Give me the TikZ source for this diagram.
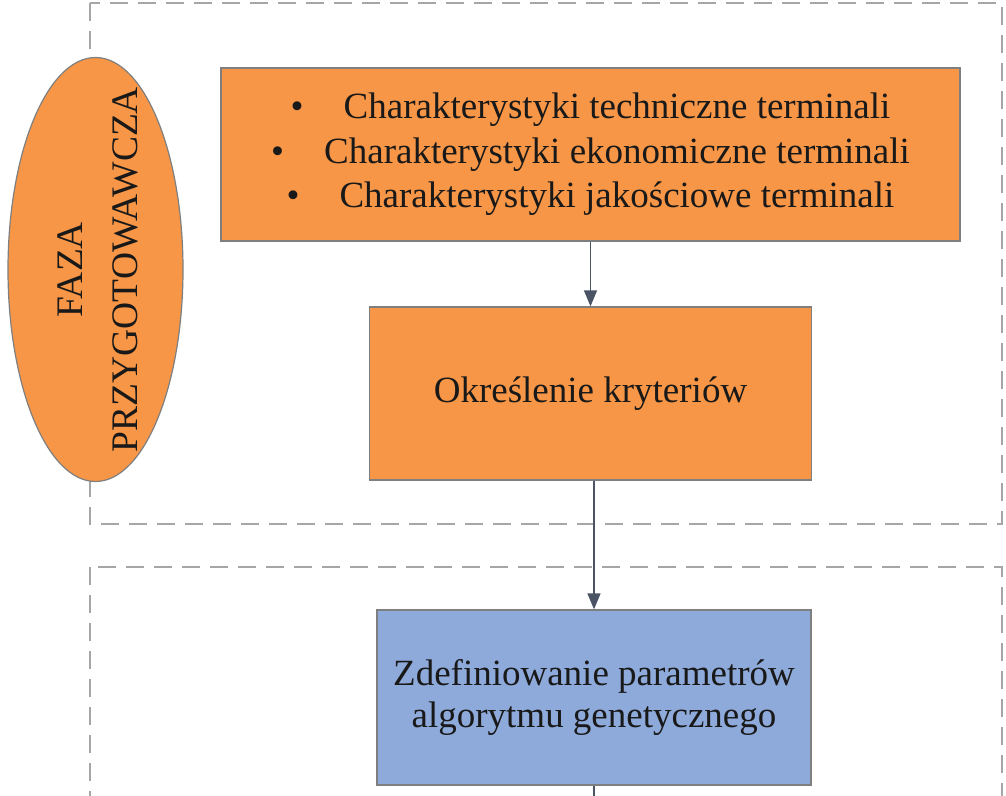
\documentclass[tikz,border=0pt]{standalone}
\usepackage{fontspec}
\setmainfont{Liberation Serif}
\usetikzlibrary{shapes.geometric,arrows.meta}
\definecolor{orangefill}{HTML}{F79646}
\definecolor{bluefill}{HTML}{8EAADB}
\definecolor{dashgray}{HTML}{A6A6A6}
\definecolor{edgegray}{HTML}{7F7F7F}
\definecolor{arrowgray}{HTML}{4A5464}
\tikzset{
  box/.style={draw=edgegray, line width=1.3pt, inner sep=0pt, align=center,
    font=\fontsize{37}{44.5}\selectfont, text=black!90},
  obox/.style={box, fill=orangefill},
  bbox/.style={box, fill=bluefill},
  phase/.style={dashed, draw=dashgray, line width=2.8pt, dash pattern=on 18pt off 10pt},
  conn/.style={draw=arrowgray, line width=1.4pt, -{Triangle[length=16pt,width=13pt]}},
}
\begin{document}
\begin{tikzpicture}[x=1pt,y=-1pt]
\useasboundingbox (0,0) rectangle (1006,795);
\clip (0,0) rectangle (1006,795);
\fill[white] (0,0) rectangle (1006,795);
% phase frames
\draw[phase] (90,3) rectangle (1002,524);
\draw[phase] (90,567) rectangle (1002,830);
% ellipse
\node[ellipse, draw=edgegray, line width=1.2pt, fill=orangefill, minimum width=175pt, minimum height=424pt, inner sep=0pt] (faza) at (95.5,269.5) {};
\node[rotate=90, align=center, font=\fontsize{37.5}{55}\selectfont, text=black!90] (fazatext) at ([xshift=2pt]faza.center) {FAZA\\PRZYGOTOWAWCZA};
% boxes
\node[obox, minimum width=739pt, minimum height=173pt] (b1) at (590.5,154.5)
  {\textbullet\hspace{40pt}Charakterystyki techniczne terminali\\
   \textbullet\hspace{40pt}Charakterystyki ekonomiczne terminali\\
   \textbullet\hspace{40pt}Charakterystyki jakościowe terminali};
\node[obox, minimum width=442pt, minimum height=173pt] (b2) at (590.5,393.5) {Określenie kryteriów};
\node[bbox, minimum width=434pt, minimum height=175pt, font=\fontsize{37}{42}\selectfont] (b3) at (594,697.5) {Zdefiniowanie parametrów\\algorytmu genetycznego};
\coordinate (out) at (594,830);
% connectors
\draw[conn] (b1.south) -- (b2.north);
\draw[conn] (b2.south -| b3.north) -- (b3.north);
\draw[draw=arrowgray, line width=1.4pt] (b3.south) -- (out);
\end{tikzpicture}
\end{document}
